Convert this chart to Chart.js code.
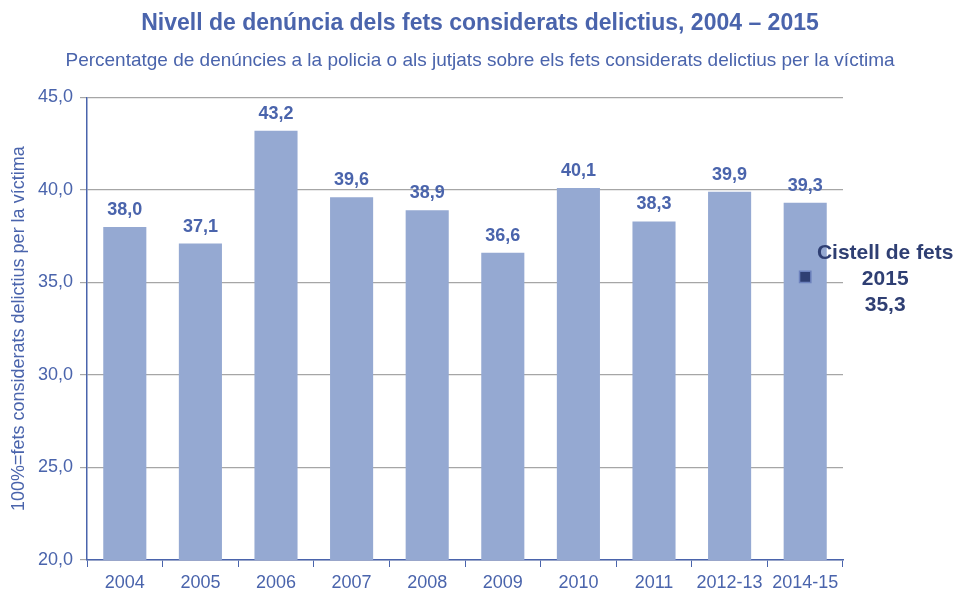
<!DOCTYPE html>
<html>
<head>
<meta charset="utf-8">
<script src="https://cdn.jsdelivr.net/npm/chart.js@4.4.1/dist/chart.umd.min.js"></script>
<style>
  html, body { margin: 0; padding: 0; background: #ffffff; }
  #wrap { width: 960px; height: 591px; }
</style>
</head>
<body>
<div id="wrap"><canvas id="denunciaChart" width="960" height="591"></canvas></div>
<script>
// Dades del gràfic
const categories = ['2004', '2005', '2006', '2007', '2008', '2009', '2010', '2011', '2012-13', '2014-15'];
const nivellDenuncia = [38.0, 37.1, 43.2, 39.6, 38.9, 36.6, 40.1, 38.3, 39.9, 39.3];
const cistellValues = [null, null, null, null, null, null, null, null, null, 35.3];
const cistellLines = ['Cistell de fets', '2015', '35,3'];
const yTicks = [20, 25, 30, 35, 40, 45];

const blue = '#4a64ac';
const navy = '#2f3f73';
const sans = "'Liberation Sans', Arial, sans-serif";

function fmt(v) {
    return v.toFixed(1).replace('.', ',');
}

// Etiquetes de valor sobre les barres i text del cistell
const labelPlugin = {
    id: 'labelPlugin',
    afterDatasetsDraw(chart) {
        const ctx = chart.ctx;
        ctx.save();
        ctx.textAlign = 'center';
        ctx.textBaseline = 'bottom';
        ctx.fillStyle = blue;
        ctx.font = 'bold 18px ' + sans;
        chart.getDatasetMeta(0).data.forEach((bar, i) => {
            ctx.fillText(fmt(nivellDenuncia[i]), bar.x, bar.y - 8);
        });

        const meta = chart.getDatasetMeta(1);
        const idx = cistellValues.findIndex(v => v !== null);
        const pt = meta.data[idx];
        ctx.fillStyle = navy;
        ctx.font = 'bold 21px ' + sans;
        ctx.textBaseline = 'middle';
        const cx = pt.x + 80;
        cistellLines.forEach((line, i) => {
            ctx.fillText(line, cx, pt.y - 24 + i * 26);
        });
        ctx.restore();
    }
};

const ctx = document.getElementById('denunciaChart').getContext('2d');
new Chart(ctx, {
    type: 'bar',
    data: {
        labels: categories,
        datasets: [{
            label: 'Nivell de denúncia',
            data: nivellDenuncia,
            backgroundColor: '#95a9d2',
            borderWidth: 0,
            barPercentage: 0.57,
            categoryPercentage: 1.0,
            order: 2
        }, {
            type: 'line',
            label: 'Cistell de fets 2015',
            data: cistellValues,
            showLine: false,
            pointStyle: 'rect',
            pointRadius: 8,
            pointBackgroundColor: navy,
            pointBorderColor: '#6d82bd',
            pointBorderWidth: 1.5,
            order: 1
        }]
    },
    options: {
        responsive: false,
        animation: false,
        layout: {
            padding: 0
        },
        plugins: {
            legend: { display: false },
            tooltip: { enabled: false },
            title: {
                display: true,
                text: 'Nivell de denúncia dels fets considerats delictius, 2004 – 2015',
                color: blue,
                font: { family: sans, size: 23, weight: 'bold' },
                padding: { top: 10, bottom: 12 }
            },
            subtitle: {
                display: true,
                text: 'Percentatge de denúncies a la policia o als jutjats sobre els fets considerats delictius per la víctima',
                color: blue,
                font: { family: sans, size: 19 },
                padding: { top: 0, bottom: 25 }
            }
        },
        scales: {
            x: {
                grid: {
                    display: true,
                    drawOnChartArea: false,
                    drawTicks: true,
                    tickLength: 7,
                    tickColor: blue,
                    offset: true
                },
                border: { color: blue, width: 1.5 },
                ticks: {
                    color: blue,
                    font: { family: sans, size: 18 },
                    padding: 5,
                    maxRotation: 0,
                    autoSkip: false
                },
                afterFit(scale) { scale.height = 31; }
            },
            y: {
                min: 20,
                max: 45,
                afterBuildTicks(scale) {
                    scale.ticks = yTicks.map(v => ({ value: v }));
                },
                grid: {
                    color: '#a6a6a6',
                    lineWidth: 1.2,
                    tickLength: 7,
                    tickColor: '#a6a6a6'
                },
                border: { color: blue, width: 1.5 },
                ticks: {
                    color: blue,
                    font: { family: sans, size: 18 },
                    padding: 7,
                    callback: v => fmt(v)
                },
                title: {
                    display: true,
                    text: '100%=fets considerats delictius per la víctima',
                    color: blue,
                    font: { family: sans, size: 18 },
                    padding: { top: 8, bottom: 4 }
                },
                afterFit(scale) { scale.width = 87; }
            },
            // espai buit a la dreta per al text del cistell
            yRight: {
                position: 'right',
                min: 20,
                max: 45,
                grid: { display: false },
                border: { display: false },
                ticks: { display: false },
                afterFit(scale) { scale.width = 117; }
            }
        }
    },
    plugins: [labelPlugin]
});
</script>
</body>
</html>
